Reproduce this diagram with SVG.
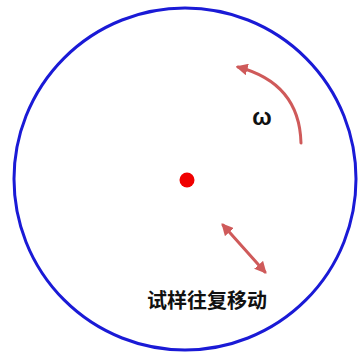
<svg xmlns="http://www.w3.org/2000/svg" width="359" height="354" viewBox="0 0 359 354">
<defs>
<style>
.arr{fill:none;stroke:#cf5a5a;stroke-width:3;stroke-linecap:round}
.lbl{font-family:"Liberation Sans","Noto Sans CJK SC",sans-serif;font-weight:bold;fill:#111}
</style>
<marker id="ah" viewBox="0 0 10 10" refX="8" refY="5" markerWidth="4" markerHeight="4" orient="auto-start-reverse">
<path d="M0,0 L10,5 L0,10 z" fill="#cf5a5a"/>
</marker>
</defs>
<rect width="359" height="354" fill="#fff"/>
<g id="disk">
<circle cx="185" cy="179" r="171" fill="none" stroke="#1a1ad6" stroke-width="3"/>
</g>
<g id="center">
<circle cx="187" cy="180" r="7.5" fill="#f00000"/>
</g>
<g id="connectors">
<path class="arr" d="M301,143 C300,105 280,78 238,67" marker-end="url(#ah)"/>
<path class="arr" d="M223,225 L265,272" marker-start="url(#ah)" marker-end="url(#ah)"/>
</g>
<g id="omega">
<text class="lbl" x="262" y="125" font-size="23" text-anchor="middle">ω</text>
</g>
<g id="label">
<text class="lbl" x="207" y="308" font-size="20" text-anchor="middle">试样往复移动</text>
</g>
</svg>
